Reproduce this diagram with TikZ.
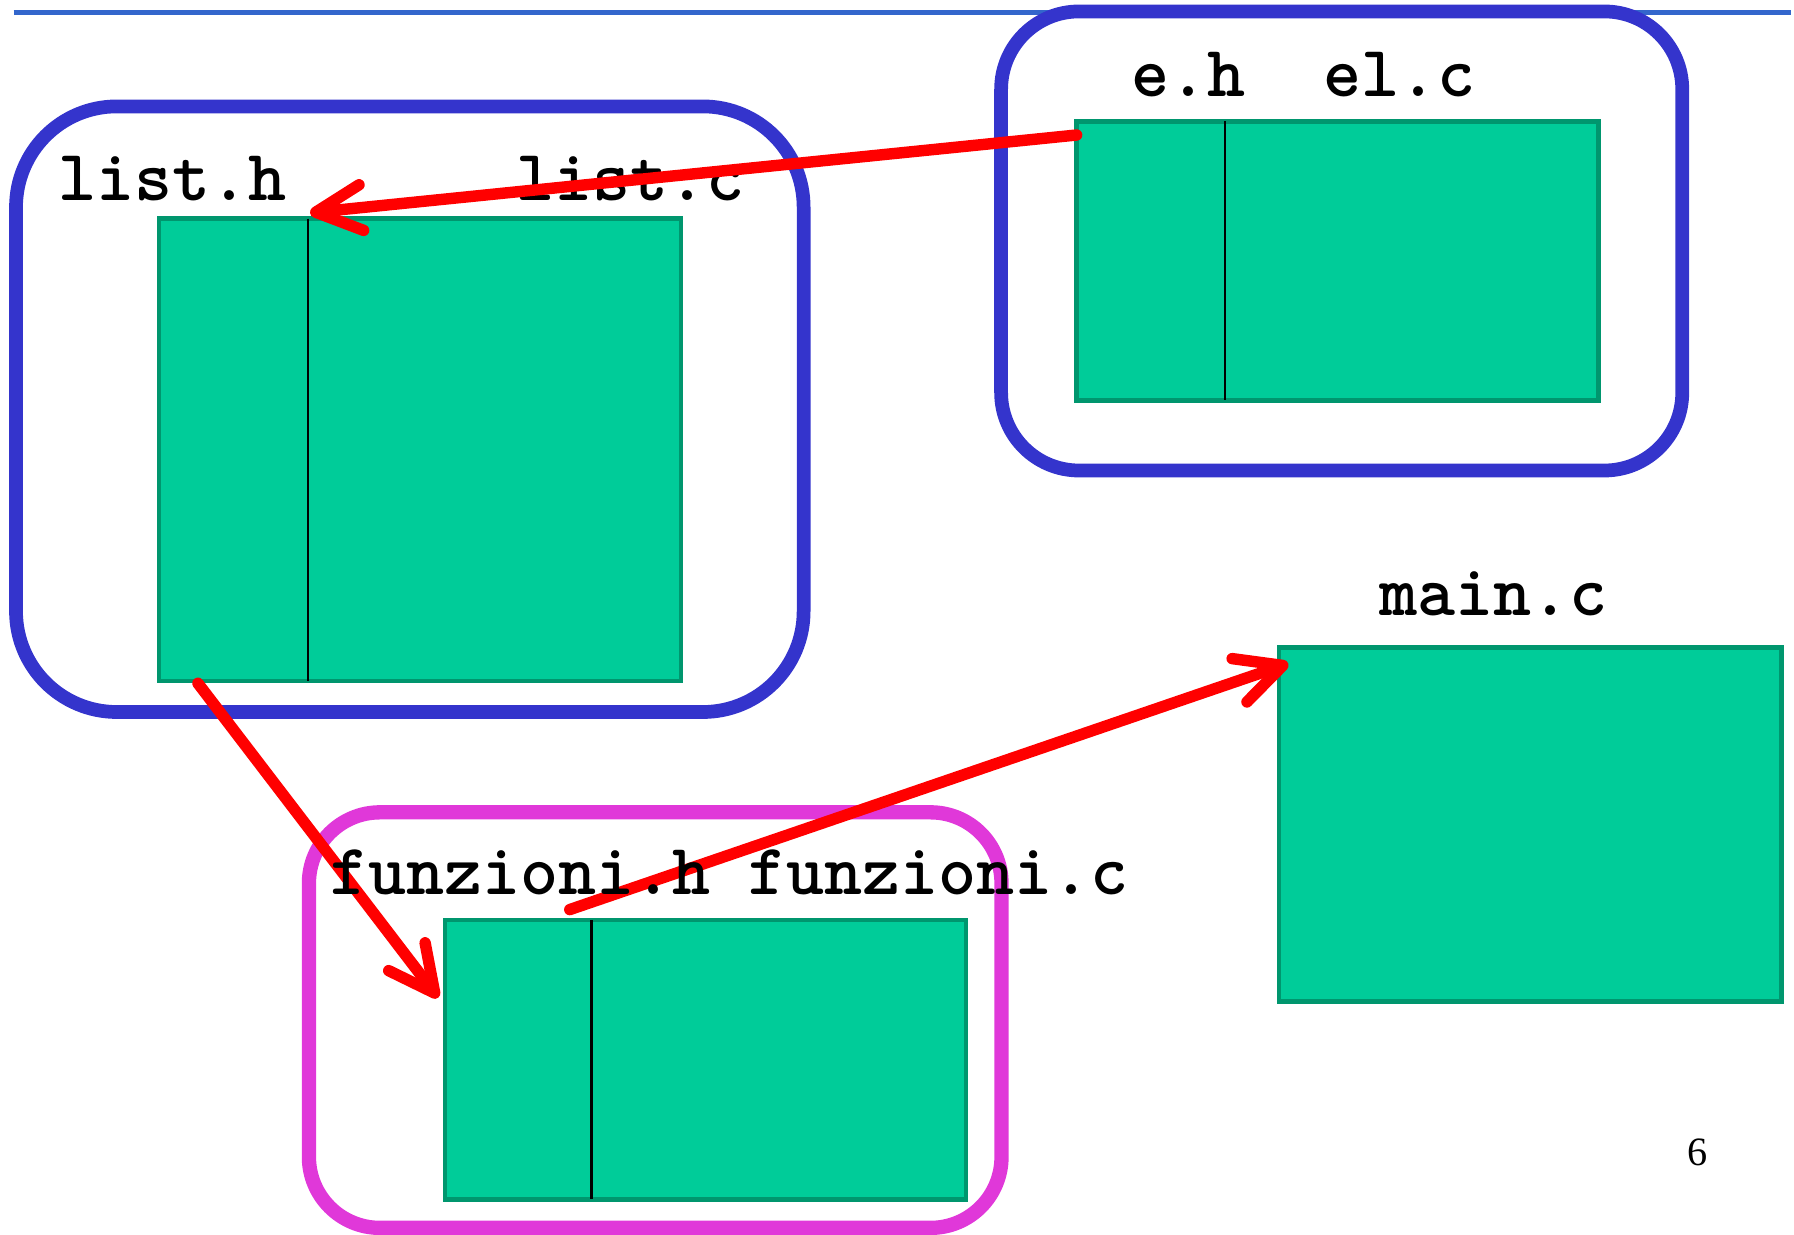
\documentclass[tikz,border=0pt]{standalone}
\usepackage{fontspec}
\setmainfont{Liberation Serif}
\usetikzlibrary{arrows.meta,calc}
\definecolor{topblue}{HTML}{3366CC}
\definecolor{grpblue}{HTML}{3434CC}
\definecolor{grpmag}{HTML}{E038D9}
\definecolor{gfill}{HTML}{00CC99}
\definecolor{gborder}{HTML}{00966E}
\definecolor{arrred}{HTML}{FF0000}
\tikzset{
  grpbox/.style={draw=grpblue, line width=0.12cm, inner sep=0pt, outer sep=0pt, anchor=north west},
  magbox/.style={draw=grpmag, line width=0.125cm, inner sep=0pt, outer sep=0pt, anchor=north west},
  filebox/.style={draw=gborder, fill=gfill, line width=0.04cm, inner sep=0pt, outer sep=0pt, anchor=north west},
  divider/.style={draw=black, line width=0.018cm},
  fname/.style={anchor=base west, inner sep=0pt, font=\ttfamily\bfseries\fontsize{18}{20}\selectfont},
  redarrow/.style={draw=arrred, line width=0.1cm, line cap=round, line join=round,
    -{Straight Barb[length=0.40cm, width=0.40cm, round]}},
  topline/.style={draw=topblue, line width=0.05cm}
}
\begin{document}
\begin{tikzpicture}[x=0.01cm, y=-0.01cm]
\useasboundingbox (0,0) rectangle (1568,1079);
% top rule
\coordinate (tl) at (12,11);
\coordinate (tr) at (1565,11);
\draw[topline] (tl) -- (tr);
% group boxes
\node[grpbox, minimum width=6.88cm, minimum height=5.29cm, rounded corners=0.88cm] (listg) at (14,93) {};
\node[grpbox, minimum width=5.95cm, minimum height=4.01cm, rounded corners=0.68cm] (elg) at (875,10) {};
\node[magbox, minimum width=6.05cm, minimum height=3.63cm, rounded corners=0.62cm] (fung) at (270,710) {};
% file boxes
\node[filebox, minimum width=4.56cm, minimum height=4.04cm] (listr) at (139,191) {};
\node[filebox, minimum width=4.56cm, minimum height=2.44cm] (elr) at (941,106) {};
\node[filebox, minimum width=4.55cm, minimum height=2.44cm] (funr) at (389,804) {};
\node[filebox, minimum width=4.39cm, minimum height=3.09cm] (mainr) at (1118,566) {};
% dividers
\draw[divider] (269,191) -- (269,595);
\draw[divider] (1071,106) -- (1071,350);
\draw[divider] (517,804) -- (517,1048);
% labels
\node[fname] (lh) at (50,175) {list.h};
\node[fname] (lc) at (451,175) {list.c};
\node[fname] (eh) at (988,84) {e.h};
\node[fname] (elc) at (1156,84) {el.c};
\node[fname] (mc) at (1205,538) {main.c};
% arrows
\draw[redarrow] ($(elr.north west)+(0,12)$) -- ($(listr.north west)+(132,-5)$);
\draw[redarrow] ($(listr.south west)+(34,2)$) -- ($(funr.north west)+(-6,68)$);
\draw[redarrow] ($(funr.north west)+(109,-9)$) -- ($(mainr.north west)+(8,14)$);
% funzioni label on top
\node[fname] (fh) at (288,782) {funzioni.h funzioni.c};
% page number
\node[font=\fontsize{10}{12}\selectfont, inner sep=0pt] (pg) at (1484,1007) {6};
\end{tikzpicture}
\end{document}
